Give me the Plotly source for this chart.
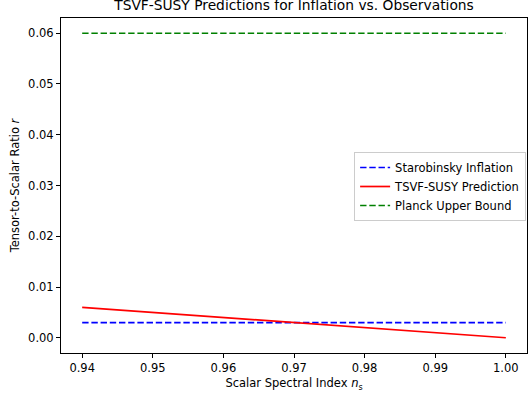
import numpy as np
import plotly.graph_objects as go

# Scalar spectral index grid and model predictions
n_s = [0.94, 1.00]
r_starobinsky = [0.003, 0.003]
r_tsvf_susy = [0.006, 0.0]
r_planck_bound = [0.06, 0.06]

x_ticks = [0.94, 0.95, 0.96, 0.97, 0.98, 0.99, 1.00]
y_ticks = [0.00, 0.01, 0.02, 0.03, 0.04, 0.05, 0.06]

DASH = "6.4px,2.8px"
LW = 1.7

fig = go.Figure()
fig.add_trace(go.Scatter(x=n_s, y=r_starobinsky, mode="lines", name="Starobinsky Inflation",
                         line=dict(color="blue", width=LW, dash=DASH)))
fig.add_trace(go.Scatter(x=n_s, y=r_tsvf_susy, mode="lines", name="TSVF-SUSY Prediction",
                         line=dict(color="red", width=LW)))
fig.add_trace(go.Scatter(x=n_s, y=r_planck_bound, mode="lines", name="Planck Upper Bound",
                         line=dict(color="green", width=LW, dash=DASH)))

axis_style = dict(showline=True, linecolor="black", linewidth=1, mirror=True,
                  ticks="outside", ticklen=4, tickwidth=1, tickcolor="black",
                  showgrid=False, zeroline=False,
                  tickfont=dict(family="DejaVu Sans", size=11.5, color="black"))

fig.update_layout(
    width=530, height=396,
    margin=dict(l=61, r=3, t=18, b=43),
    plot_bgcolor="white", paper_bgcolor="white",
    font=dict(family="DejaVu Sans", size=11.5, color="black"),
    title=dict(text="TSVF-SUSY Predictions for Inflation vs. Observations",
               x=294 / 530, xanchor="center", xref="container",
               y=1 - 5.5 / 396, yanchor="middle", yref="container",
               font=dict(family="DejaVu Sans", size=13.8, color="black")),
    xaxis=dict(range=[0.937, 1.003], tickvals=x_ticks,
               ticktext=[f"{v:.2f}" for v in x_ticks],
               title=dict(text="Scalar Spectral Index <i>n</i><sub>s</sub>", standoff=5,
                          font=dict(size=11.5)),
               **axis_style),
    yaxis=dict(range=[-0.003, 0.063], tickvals=y_ticks,
               ticktext=[f"{v:.2f}" for v in y_ticks],
               title=dict(text="Tensor-to-Scalar Ratio <i>r</i>", standoff=6,
                          font=dict(size=11.5)),
               **axis_style),
    legend=dict(x=0.629, y=0.600, xanchor="left", yanchor="top",
                bgcolor="rgba(255,255,255,0.8)", bordercolor="#cccccc", borderwidth=1,
                font=dict(size=11.5), tracegroupgap=0, itemwidth=30),
    showlegend=True,
)

fig.write_html("out.html")
